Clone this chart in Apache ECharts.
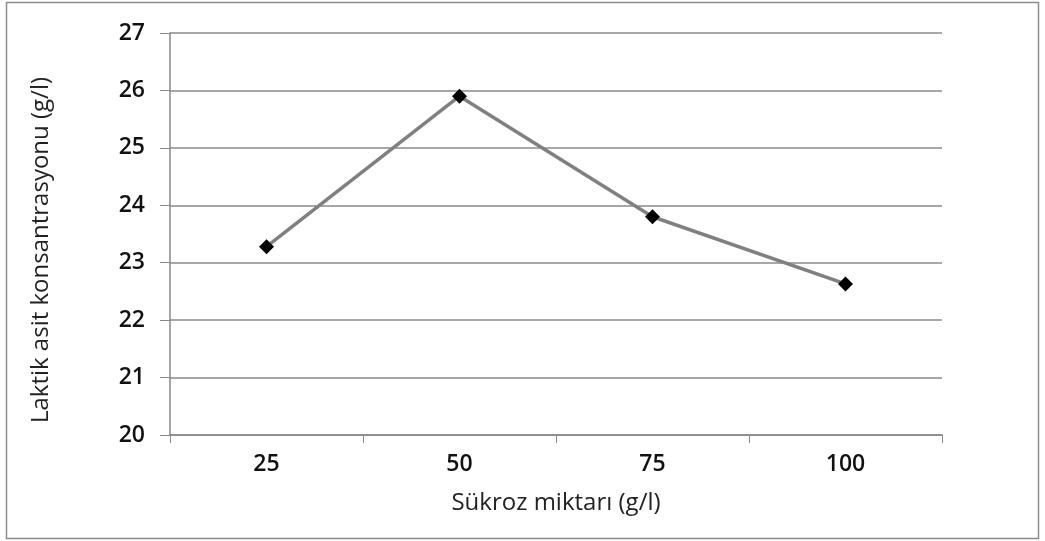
<!DOCTYPE html>
<html>
<head>
<meta charset="utf-8">
<script src="https://cdn.jsdelivr.net/npm/echarts@6/dist/echarts.min.js"></script>
<style>
  html, body { margin: 0; padding: 0; background: #fff; }
  #chart { width: 1045px; height: 541px; }
</style>
</head>
<body>
<div id="chart"></div>
<script>
// Sucrose amount (g/l) and resulting lactic acid concentration (g/l)
const categories = ['25', '50', '75', '100'];
const lacticAcid = [23.28, 25.9, 23.8, 22.63];
const yTicks = { min: 20, max: 27, interval: 1 };

const chart = echarts.init(document.getElementById('chart'));
const font = '"Open Sans", "DejaVu Sans", sans-serif';

chart.setOption({
  animation: false,
  backgroundColor: '#ffffff',
  graphic: [{
    type: 'rect',
    shape: { x: 6.5, y: 2.5, width: 1032, height: 536 },
    style: { fill: 'none', stroke: '#8c8c8c', lineWidth: 1.5 },
    silent: true
  }],
  grid: { left: 170, right: 103, top: 33, bottom: 106 },
  xAxis: {
    type: 'category',
    data: categories,
    boundaryGap: true,
    name: 'Sükroz miktarı (g/l)',
    nameLocation: 'middle',
    nameGap: 56,
    nameTextStyle: { fontFamily: font, fontSize: 24, color: '#222' },
    axisLine: { lineStyle: { color: '#888', width: 1.5 } },
    axisTick: { show: true, length: 8, inside: false, lineStyle: { color: '#888' } },
    axisLabel: { fontFamily: font, fontSize: 23, fontWeight: 600, color: '#111', margin: 18 },
    splitLine: { show: false }
  },
  yAxis: {
    type: 'value',
    min: yTicks.min,
    max: yTicks.max,
    interval: yTicks.interval,
    name: 'Laktik asit konsantrasyonu (g/l)',
    nameLocation: 'middle',
    nameGap: 117,
    nameRotate: 90,
    // right padding nudges the rotated title a little lower than the plot centre
    nameTextStyle: { fontFamily: font, fontSize: 24, color: '#222', padding: [0, 32, 0, 0] },
    axisLine: { show: true, lineStyle: { color: '#888', width: 1.5 } },
    axisTick: { show: true, length: 10, lineStyle: { color: '#888' } },
    axisLabel: { fontFamily: font, fontSize: 23, fontWeight: 600, color: '#111', margin: 25 },
    splitLine: { show: true, lineStyle: { color: '#8a8a8a', width: 1.5 } }
  },
  series: [{
    type: 'line',
    data: lacticAcid,
    symbol: 'diamond',
    symbolSize: 15,
    itemStyle: { color: '#000' },
    lineStyle: { color: '#808080', width: 3.5 },
    z: 3
  }]
});
</script>
</body>
</html>
